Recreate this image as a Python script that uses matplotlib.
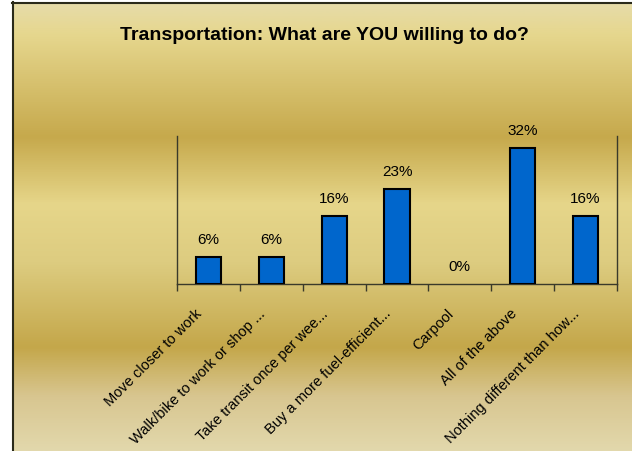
import numpy as np
import matplotlib
matplotlib.use("Agg")
import matplotlib.pyplot as plt
from matplotlib.colors import LinearSegmentedColormap

categories = ["Move closer to work", "Walk/bike to work or shop ...", "Take transit once per wee...",
              "Buy a more fuel-efficient...", "Carpool", "All of the above", "Nothing different than how..."]
counts = [2, 2, 5, 7, 0, 10, 5]
total = 31
values = [c / total for c in counts]
value_labels = ["6%", "6%", "16%", "23%", "0%", "32%", "16%"]

plt.rcParams['font.family'] = ['Liberation Sans', 'DejaVu Sans']

W, H = 632, 451
fig = plt.figure(figsize=(W / 100, H / 100), dpi=100)
fig.patch.set_facecolor('white')

# background gradient
bg = fig.add_axes([12 / W, 0, 1 - 12 / W, 1 - 2 / H], zorder=0)
stops = [(0.0, '#e6dcaa'), (0.07, '#e6d78e'), (0.30, '#c6a94c'), (0.45, '#e6d68a'),
         (0.58, '#ddcc80'), (0.77, '#c4a74a'), (0.88, '#d8c690'), (1.0, '#e2d8ac')]
cmap = LinearSegmentedColormap.from_list('gold', stops)
grad = np.linspace(0, 1, 512).reshape(-1, 1)
bg.imshow(grad, aspect='auto', cmap=cmap, extent=[0, 1, 0, 1], origin='upper')
bg.set_xlim(0, 1); bg.set_ylim(0, 1)
bg.axis('off')
bg.plot([0.0015, 0.0015], [0, 1], color='#2a2a1a', lw=1.5, clip_on=False)
bg.plot([0, 1], [0.998, 0.998], color='#2a2a1a', lw=1.5, clip_on=False)

fig.text(324 / W, 1 - 35 / H, "Transportation: What are YOU willing to do?",
         ha='center', va='center', fontsize=14, fontweight='bold', color='black')

# main axes
x0, x1 = 177, 617
ytop, ybot = 136, 284
ax = fig.add_axes([x0 / W, 1 - ybot / H, (x1 - x0) / W, (ybot - ytop) / H], zorder=1)
ax.patch.set_alpha(0)
n = len(categories)
xs = np.arange(n)
lws = [1.5 if v > 0 else 0 for v in values]
ax.bar(xs, values, width=0.4, color='#0066cc', edgecolor='black', linewidth=lws, zorder=3)
ax.set_xlim(-0.5, n - 0.5)
ax.set_ylim(0, 0.35)
for x, v, lab in zip(xs, values, value_labels):
    ax.annotate(lab, xy=(x, v), xytext=(0, 7), textcoords='offset points',
                ha='center', va='bottom', fontsize=11, color='black')

ax.spines['top'].set_visible(False)
for s in ['left', 'right', 'bottom']:
    ax.spines[s].set_color('#3a3a2a')
    ax.spines[s].set_linewidth(1.0)
ax.set_yticks([])
ax.set_xticks(np.arange(n + 1) - 0.5)
ax.set_xticklabels([])
ax.tick_params(axis='x', direction='out', length=5, color='#3a3a2a', width=1)

for x, lab in zip(xs, categories):
    ax.annotate(lab, xy=(x, 0), xytext=(-6, -20), textcoords='offset points',
                rotation=45, rotation_mode='anchor', ha='right', va='center',
                fontsize=10.5, color='black', annotation_clip=False)

fig.savefig('out.png', dpi=100)
